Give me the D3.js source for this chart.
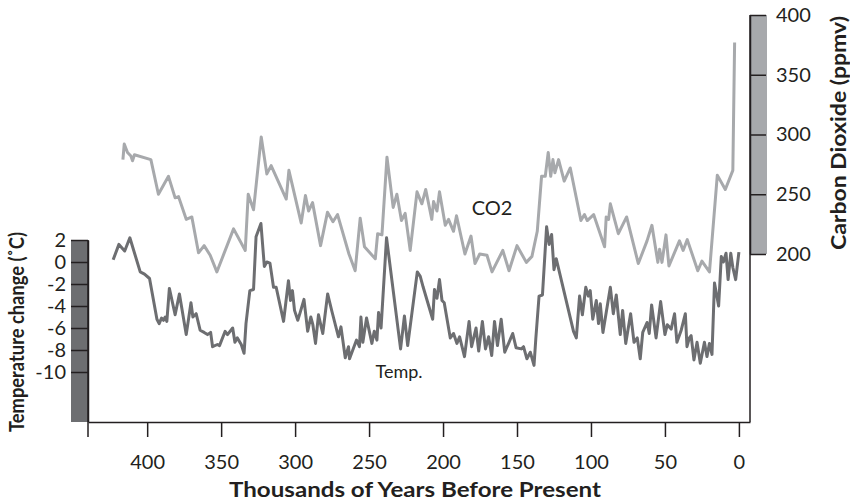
<!doctype html>
<html>
<head>
  <script src="https://cdnjs.cloudflare.com/ajax/libs/d3/7.8.5/d3.min.js"></script>
  <style>
    body { margin: 0; background: #fff; }
    text { font-family: Lato, "Open Sans", sans-serif; fill: #231f20; }
  </style>
</head>
<body>
<svg width="850" height="503"></svg>
<script type="text/javascript">
// thousands of years before present, CO2 in ppmv
var co2Years = [416.4,415.5,413.3,411.0,409.9,408.6,397.5,392.4,385.6,381.1,378.8,373.6,369.8,365.3,361.5,357.4,352.9,341.6,333.7,331.7,328.1,322.9,319.1,316.2,306.0,304.2,295.9,293.0,290.9,288.2,282.8,278.1,274.4,271.3,263.6,259.4,256.0,253.1,245.8,244.2,241.3,237.9,233.7,231.2,228.1,225.6,222.2,217.6,214.3,211.7,207.6,206.4,204.1,202.4,198.5,196.3,192.9,190.9,185.2,181.1,178.4,175.2,170.3,166.9,159.6,155.4,150.0,143.7,139.9,136.3,133.4,130.9,128.9,127.2,125.7,124.4,121.9,118.1,114.0,106.8,104.4,102.5,98.2,90.8,89.7,88.1,86.9,81.5,75.9,68.0,62.1,58.8,54.8,53.6,52.0,49.3,47.3,40.2,37.7,34.9,27.8,25.0,19.9,14.6,9.2,4.1,2.9];
var co2Values = [279,292,285,282,278,283,279,250,265,247,248,229,231,201,207,199,185,221,203,250,237,298,267,274,246,270,226,249,236,243,207,235,227,233,200,186,230,206,196,217,216,281,239,250,228,234,203,252,242,254,229,244,236,252,224,229,219,232,200,215,192,200,199,185,203,186,207,193,198,219,265,265,285,265,279,268,279,261,272,228,233,228,233,206,231,229,242,217,231,192,211,224,193,204,193,216,190,211,203,212,186,194,185,266,254,270,377];

// thousands of years before present, temperature change in degrees C
var tempYears = [423.0,419.1,415.2,411.7,404.7,401.8,398.4,393.4,391.9,390.3,389.0,387.8,386.7,385.0,381.1,378.2,373.6,370.4,369.1,366.9,364.2,361.5,359.2,357.1,355.8,352.5,351.1,347.3,345.7,342.2,340.7,339.1,336.4,334.5,333.2,330.6,328.1,326.4,323.1,320.8,319.1,317.0,314.6,312.8,307.8,304.5,303.1,301.8,300.4,298.2,296.6,294.0,291.5,289.4,288.0,286.2,284.2,281.3,278.0,275.1,270.7,269.0,266.1,263.9,263.2,258.5,256.5,255.5,254.2,251.7,248.1,246.5,244.7,243.6,241.9,238.2,228.7,226.1,223.9,217.4,215.4,213.4,207.0,205.8,204.1,202.4,200.7,199.2,195.1,192.9,190.6,188.8,185.5,182.4,180.7,177.7,175.9,173.4,171.3,169.2,167.1,165.2,163.2,160.7,158.3,155.4,152.9,150.6,147.1,145.6,143.3,141.0,138.5,137.3,135.1,132.8,130.0,128.3,126.6,125.0,123.5,111.8,109.9,107.7,105.8,103.5,101.8,100.5,98.8,96.4,94.9,93.7,91.9,89.7,86.9,84.9,82.9,80.2,78.6,76.5,73.2,70.9,68.7,66.7,65.0,62.1,60.6,59.0,56.0,52.9,50.0,48.4,45.8,43.5,41.9,39.0,36.2,35.1,33.5,32.3,30.4,28.3,26.1,23.3,21.6,19.9,18.2,16.5,13.7,11.9,10.5,8.7,7.3,5.5,4.1,2.2,0.0];
var tempValues = [0.2,1.6,1.0,2.2,-0.9,-1.1,-1.5,-5.2,-5.6,-5.1,-5.3,-5.0,-5.4,-2.4,-4.8,-2.9,-6.6,-3.7,-5.0,-4.7,-6.2,-6.4,-6.6,-6.4,-7.7,-7.5,-7.6,-6.3,-6.6,-6.0,-7.3,-6.9,-7.5,-8.3,-5.6,-2.6,-2.5,2.3,3.5,-0.4,0.0,-0.1,-2.3,-2.3,-5.4,-1.7,-3.5,-2.6,-4.4,-5.3,-4.6,-3.4,-6.3,-5.0,-5.7,-7.4,-4.8,-6.5,-2.9,-4.5,-6.8,-5.9,-8.7,-7.7,-8.8,-7.1,-7.7,-5.0,-7.3,-5.1,-7.4,-6.3,-7.1,-4.6,-6.0,2.2,-7.9,-4.9,-7.6,-0.9,-1.3,-2.3,-5.2,-2.5,-3.3,-1.6,-3.5,-3.7,-6.9,-6.5,-7.4,-6.8,-8.6,-5.4,-7.7,-6.0,-8.1,-5.4,-7.9,-6.8,-8.5,-5.4,-7.6,-5.2,-8.2,-7.3,-6.5,-7.8,-7.9,-7.7,-8.8,-8.2,-9.4,-7.0,-3.1,-3.0,3.2,1.6,2.5,-0.7,0.3,-6.3,-6.9,-3.1,-4.8,-2.3,-3.1,-2.6,-5.2,-3.5,-5.6,-3.8,-6.4,-4.6,-2.3,-4.7,-3.0,-6.6,-4.4,-7.4,-4.7,-7.3,-6.9,-8.8,-6.4,-5.5,-6.5,-3.9,-6.9,-3.6,-6.6,-5.7,-6.1,-4.7,-7.3,-6.2,-4.7,-7.7,-6.9,-6.7,-8.9,-7.3,-9.2,-7.3,-8.6,-7.4,-8.4,-1.9,-4.0,0.5,0.0,0.8,-1.6,0.8,-0.5,-1.6,0.9];

var yearTicks = [400, 350, 300, 250, 200, 150, 100, 50, 0];
var tempTicks = [2, 0, -2, -4, -6, -8, -10];
var co2Ticks = [200, 250, 300, 350, 400];

var svg = d3.select("svg");
var ink = "#231f20";
var darkGray = "#6d6e71";
var lightGray = "#a7a9ac";

var x = d3.scaleLinear().domain([440, -7.5]).range([88, 750]);
var yT = d3.scaleLinear().domain([2, -14.5]).range([240, 421.5]);
var yC = d3.scaleLinear().domain([200, 400]).range([254, 15]);
var baseY = 422;
var plain = d => String(d);   // keep hyphen minus like the original

// scale bars
svg.append("rect")
   .attr("x", 71).attr("y", yT(2))
   .attr("width", 17).attr("height", baseY - yT(2))
   .style("fill", darkGray);
svg.append("rect")
   .attr("x", 750).attr("y", yC(400))
   .attr("width", 17).attr("height", yC(200) - yC(400))
   .style("fill", lightGray);

// lines
var co2Data = co2Years.map((d, i) => ({year: d, value: co2Values[i]}));
var tempData = tempYears.map((d, i) => ({year: d, value: tempValues[i]}));

svg.append("path")
   .datum(co2Data)
   .attr("d", d3.line().x(d => x(d.year)).y(d => yC(d.value)))
   .style("fill", "none")
   .style("stroke", lightGray)
   .style("stroke-width", 3)
   .style("stroke-linejoin", "round");

svg.append("path")
   .datum(tempData)
   .attr("d", d3.line().x(d => x(d.year)).y(d => yT(d.value)))
   .style("fill", "none")
   .style("stroke", darkGray)
   .style("stroke-width", 3)
   .style("stroke-linejoin", "round");

// x axis
var xAxis = svg.append("g")
   .attr("transform", "translate(0," + baseY + ")")
   .call(d3.axisBottom(x).tickValues(yearTicks).tickFormat(plain).tickSize(15).tickSizeOuter(0).tickPadding(18));

// temperature axis
var tAxis = svg.append("g")
   .attr("transform", "translate(88,0)")
   .call(d3.axisLeft(yT).tickValues(tempTicks).tickFormat(plain).tickSize(17).tickSizeOuter(0).tickPadding(5));

// co2 axis
var cAxis = svg.append("g")
   .attr("transform", "translate(750,0)")
   .call(d3.axisRight(yC).tickValues(co2Ticks).tickFormat(plain).tickSize(16).tickSizeOuter(0).tickPadding(10));

svg.selectAll(".domain, .tick line").style("stroke", ink).style("stroke-width", 1.5);
svg.selectAll(".tick text")
   .style("fill", ink)
   .style("font-family", "Lato, sans-serif")
   .style("font-size", "20px");

// axis lines down to the base
svg.append("line").attr("x1", 88).attr("x2", 88).attr("y1", yT(2)).attr("y2", baseY + 15)
   .style("stroke", ink).style("stroke-width", 1.5);
svg.append("line").attr("x1", 750).attr("x2", 750).attr("y1", yC(400)).attr("y2", baseY)
   .style("stroke", ink).style("stroke-width", 1.5);

// titles
svg.append("text")
   .attr("x", 415).attr("y", 497)
   .attr("text-anchor", "middle")
   .attr("textLength", 372).attr("lengthAdjust", "spacingAndGlyphs")
   .style("font-size", "20px").style("font-weight", "bold")
   .text("Thousands of Years Before Present");

svg.append("text")
   .attr("transform", "translate(24,332) rotate(-90)")
   .attr("text-anchor", "middle")
   .attr("textLength", 200).attr("lengthAdjust", "spacingAndGlyphs")
   .style("font-size", "21px").style("font-weight", "bold")
   .text("Temperature change (˚C)");

svg.append("text")
   .attr("transform", "translate(846,133) rotate(-90)")
   .attr("text-anchor", "middle")
   .attr("textLength", 234).attr("lengthAdjust", "spacingAndGlyphs")
   .style("font-size", "21px").style("font-weight", "bold")
   .text("Carbon Dioxide (ppmv)");

// series labels
svg.append("text")
   .attr("x", 492).attr("y", 215)
   .attr("text-anchor", "middle")
   .style("font-size", "20px")
   .text("CO2");

svg.append("text")
   .attr("x", 399).attr("y", 378)
   .attr("text-anchor", "middle")
   .style("font-size", "18px")
   .text("Temp.");
</script>
</body>
</html>
